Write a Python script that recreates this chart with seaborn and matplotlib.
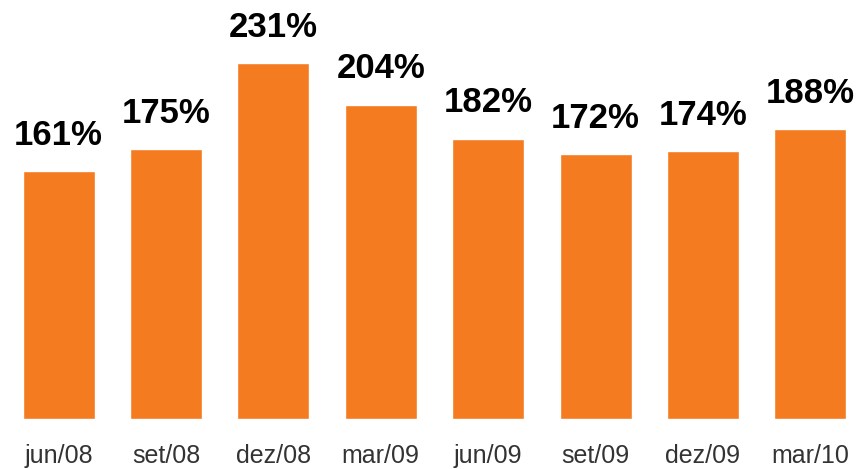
import matplotlib
matplotlib.use("Agg")
import matplotlib.pyplot as plt
import seaborn as sns
import pandas as pd

categories = ["jun/08", "set/08", "dez/08", "mar/09", "jun/09", "set/09", "dez/09", "mar/10"]
values = [161, 175, 231, 204, 182, 172, 174, 188]
labels = ["161%", "175%", "231%", "204%", "182%", "172%", "174%", "188%"]

sns.set_theme(style="white")
plt.rcParams["font.family"] = ["Liberation Sans", "DejaVu Sans"]

df = pd.DataFrame({"cat": categories, "val": values})

fig = plt.figure(figsize=(8.59, 4.69), dpi=100)
ax = fig.add_axes([0, 50 / 469, 1, 419 / 469])
sns.barplot(data=df, x="cat", y="val", color="#F47B20", saturation=1, width=0.67, ax=ax)

ax.bar_label(ax.containers[0], labels=labels, padding=14, fontsize=25,
             fontweight="bold", color="black")

ax.set_xlim(-0.545, 7.453)
ax.set_ylim(0, 272)
ax.set_xlabel("")
ax.set_ylabel("")
ax.set_yticks([])
ax.tick_params(axis="x", length=0, labelsize=18, labelcolor="#333333", pad=18)
for s in ax.spines.values():
    s.set_visible(False)

fig.savefig("out.png", dpi=100)
